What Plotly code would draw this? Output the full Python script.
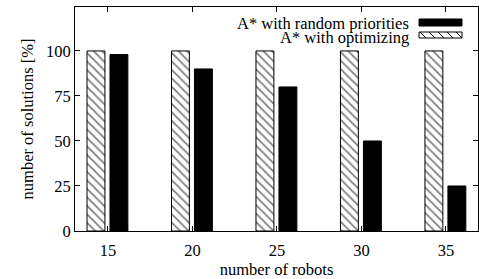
import plotly.graph_objects as go

robots = [15, 20, 25, 30, 35]
optimizing = [100, 100, 100, 100, 100]
random_prio = [98, 90, 80, 50, 25]
y_ticks = [0, 25, 50, 75, 100]
label_random = "A* with random priorities"
label_opt = "A* with optimizing"

FONT = "'Liberation Serif', 'Times New Roman', Times, serif"
FS = 16.5
L, R, T, B = 75, 1, 7, 48
W, H = 479, 279
PW, PH = W - L - R, H - T - B

def px2x(px):
    return (px - L) / PW

def py2y(py):
    return (H - B - py) / PH

fig = go.Figure()
fig.add_trace(go.Bar(
    x=robots, y=optimizing, name=label_opt, width=1.06, offset=-1.24,
    marker=dict(color="white", line=dict(color="black", width=1),
                pattern=dict(shape="\\", fgcolor="black", bgcolor="white", size=6, solidity=0.3)),
    showlegend=False,
))
fig.add_trace(go.Bar(
    x=robots, y=random_prio, name=label_random, width=1.06, offset=0.12,
    marker=dict(color="black", line=dict(color="black", width=1)),
    showlegend=False,
))

# legend drawn manually (text right-aligned, swatch on right)
fig.add_annotation(xref="paper", yref="paper", x=px2x(411), y=py2y(24), text=label_random,
                   showarrow=False, xanchor="right", yanchor="middle",
                   font=dict(family=FONT, size=FS, color="black"))
fig.add_annotation(xref="paper", yref="paper", x=px2x(411), y=py2y(37.5), text=label_opt,
                   showarrow=False, xanchor="right", yanchor="middle",
                   font=dict(family=FONT, size=FS, color="black"))
fig.add_shape(type="rect", xref="paper", yref="paper",
              x0=px2x(419), x1=px2x(462), y0=py2y(26), y1=py2y(19),
              fillcolor="black", line=dict(color="black", width=1))
fig.add_shape(type="rect", xref="paper", yref="paper",
              x0=px2x(419), x1=px2x(462), y0=py2y(38), y1=py2y(32),
              fillcolor="white", line=dict(color="black", width=1))
path = ""
for sx in range(420, 462, 9):
    x0, y0 = sx, 32
    x1, y1 = min(sx + 6, 462), 32 + (min(sx + 6, 462) - sx)
    path += f"M{px2x(x0)},{py2y(y0)} L{px2x(x1)},{py2y(y1)} "
fig.add_shape(type="path", xref="paper", yref="paper", path=path,
              line=dict(color="black", width=1))

fig.update_layout(
    width=W, height=H,
    margin=dict(l=L, r=R, t=T, b=B, autoexpand=False),
    plot_bgcolor="white", paper_bgcolor="white",
    font=dict(family=FONT, size=FS, color="black"),
    barmode="overlay",
)
fig.update_xaxes(
    range=[13.05, 36.9], tickvals=robots, ticktext=[str(r) for r in robots],
    ticks="inside", ticklen=5, tickcolor="black", showline=True, linecolor="black",
    linewidth=1, mirror="ticks", showgrid=False, zeroline=False, ticklabelstandoff=4,
    title=dict(text="number of robots", standoff=0, font=dict(family=FONT, size=FS)),
    tickfont=dict(family=FONT, size=FS),
)
fig.update_yaxes(
    range=[0, 124.4], tickvals=y_ticks, ticks="inside", ticklen=5, tickcolor="black",
    showline=True, linecolor="black", linewidth=1, mirror="ticks", showgrid=False,
    zeroline=False,
    title=dict(text="number of solutions [%]", standoff=8, font=dict(family=FONT, size=FS)),
    tickfont=dict(family=FONT, size=FS),
)

fig.write_html("out.html", config={"displayModeBar": False},
               post_script="document.body.style.margin='0';")
